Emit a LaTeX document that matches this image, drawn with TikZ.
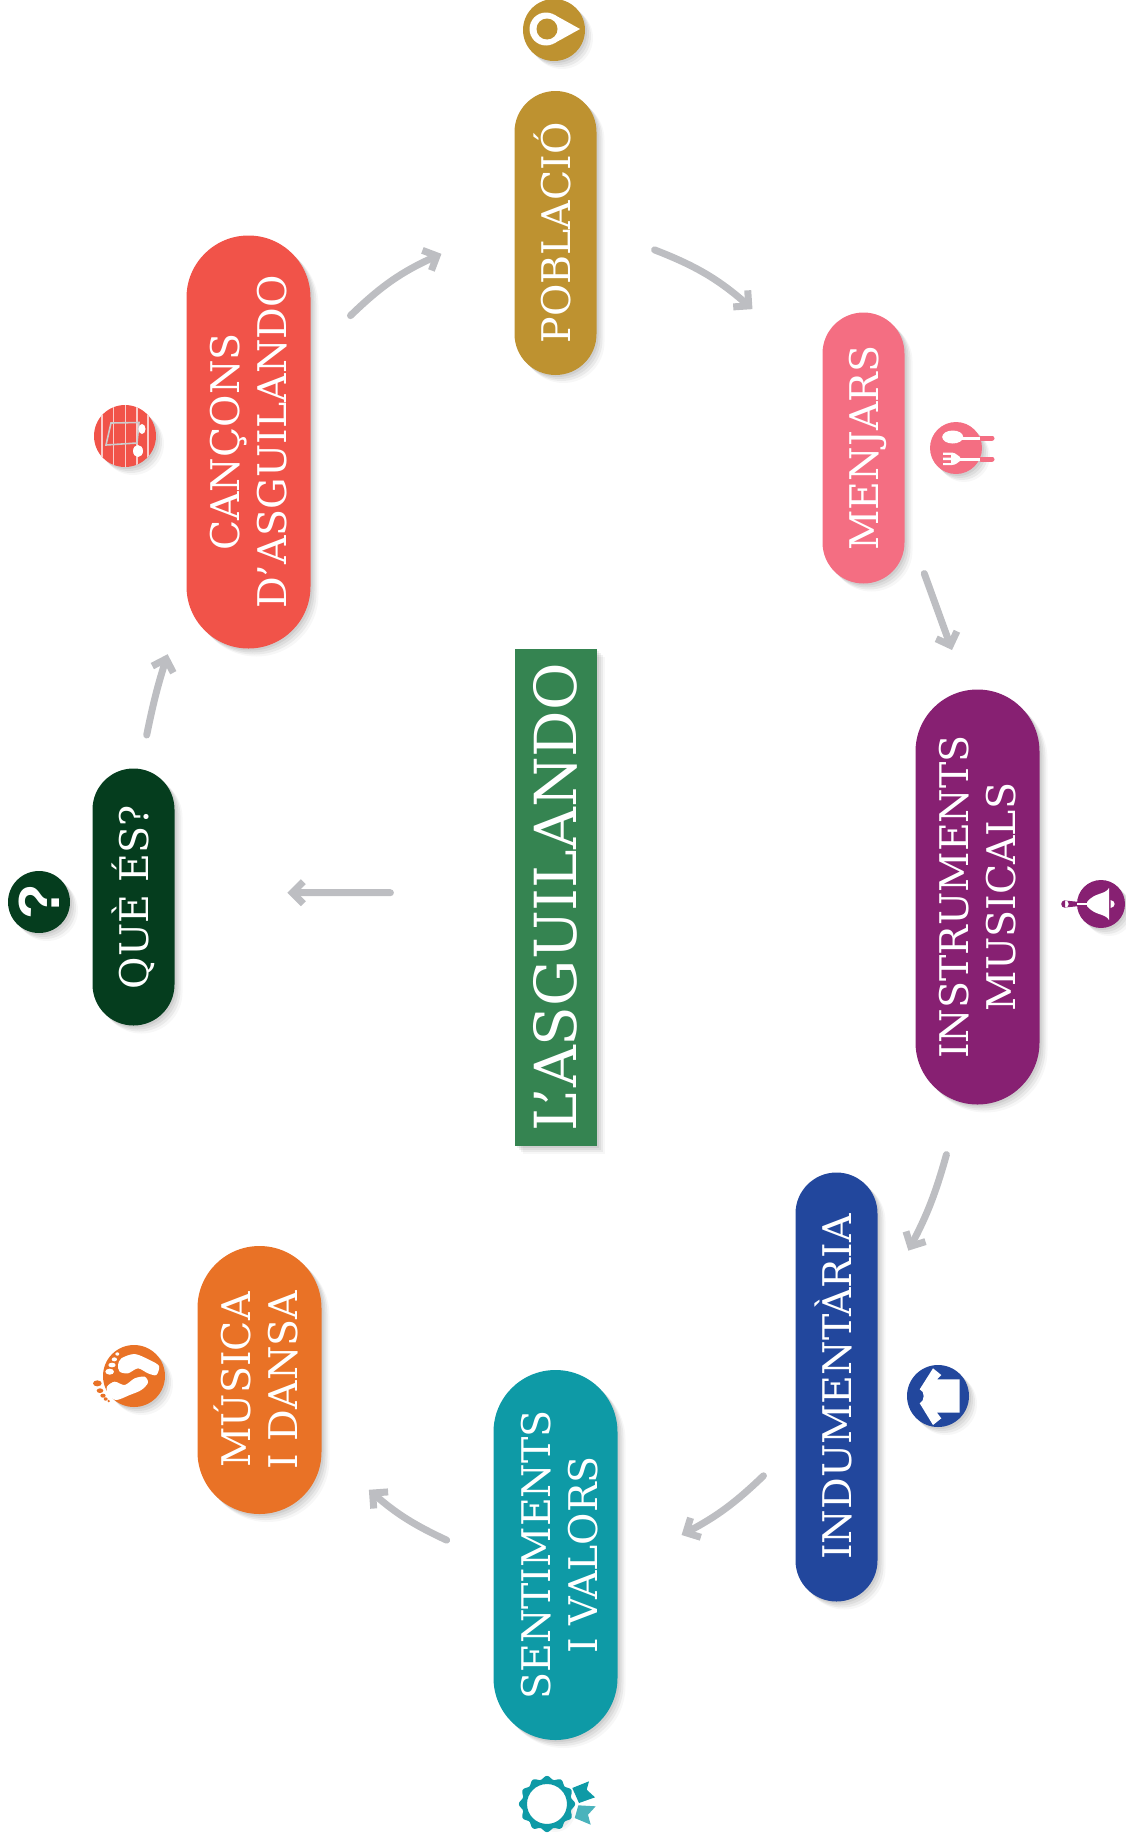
\documentclass[tikz,border=0pt]{standalone}
\usepackage{fontspec}
\setmainfont{DejaVu Serif}
\usepackage{tikz}
\usetikzlibrary{positioning}
\usetikzlibrary{calc}
\usetikzlibrary{arrows.meta}
\usetikzlibrary{shadows}
\usetikzlibrary{shapes.misc}
\definecolor{cpoblacio}{HTML}{BE9230}
\definecolor{cmenjars}{HTML}{F46E82}
\definecolor{cinstruments}{HTML}{872072}
\definecolor{cindumentaria}{HTML}{22479D}
\definecolor{csentiments}{HTML}{0E9AA6}
\definecolor{cmusica}{HTML}{E97226}
\definecolor{cque}{HTML}{053D1E}
\definecolor{ccancons}{HTML}{F15349}
\definecolor{ctitol}{HTML}{358451}
\definecolor{cfletxa}{HTML}{BDBEC2}
\def\capline#1{\rule{0pt}{29pt}\smash{#1}}
\tikzset{
	softshadow/.style={
		drop shadow={shadow xshift=2pt,shadow yshift=-2pt,opacity=.06,fill=black},
		drop shadow={shadow xshift=4pt,shadow yshift=-4pt,opacity=.06,fill=black},
		drop shadow={shadow xshift=6pt,shadow yshift=-6pt,opacity=.05,fill=black},
		drop shadow={shadow xshift=8pt,shadow yshift=-8pt,opacity=.03,fill=black}},
	pill/.style={rounded rectangle,rotate=90,align=center,text=white,softshadow,outer sep=0pt,inner sep=0pt,font=\fontsize{39.5}{47}\selectfont},
	singlepill/.style={pill,text height=29pt,text depth=0pt,minimum height=82pt},
	icona/.style={circle,minimum size=62pt,inner sep=0pt,outer sep=0pt,softshadow},
	fletxa/.style={-{Straight Barb[length=11pt,width=22pt,line width=7pt,line cap=butt]},draw=cfletxa,line width=7pt,line cap=round},
}
\begin{document}
\begin{tikzpicture}[x=1pt,y=-1pt]
	\useasboundingbox (0,0) rectangle (1125,1847);

	\node [rotate=90,minimum width=497pt,minimum height=82pt,inner sep=0pt,outer sep=0pt,fill=ctitol,text=white,softshadow,text height=42pt,text depth=0pt,font=\fontsize{58}{64}\selectfont] at (555.5,897) (titol) {L’ASGUILANDO};
	\node [singlepill,minimum width=284pt,fill=cpoblacio] at (555.5,233) (poblacio) {POBLACIÓ};
	\node [singlepill,minimum width=271pt,fill=cmenjars] at (863.5,448) (menjars) {MENJARS};
	\node [pill,minimum width=415pt,minimum height=124pt,fill=cinstruments] at (977.5,897) (instruments) {INSTRUMENTS\\MUSICALS};
	\node [singlepill,minimum width=429pt,fill=cindumentaria] at (836.5,1387) (indumentaria) {INDUMENTÀRIA};
	\node [pill,minimum width=370pt,minimum height=124pt,fill=csentiments] at (555.5,1555) (sentiments) {\rule{0pt}{37pt}SENTIMENTS\\I VALORS};
	\node [pill,minimum width=268pt,minimum height=124pt,fill=cmusica] at (259.5,1380) (musica) {\capline{MÚSICA}\\I DANSA};
	\node [singlepill,minimum width=257pt,fill=cque] at (133.5,897) (que) {QUÈ ÉS?};
	\node [pill,minimum width=413pt,minimum height=124pt,fill=ccancons] at (248.5,442) (cancons) {CANÇONS\\D’ASGUILANDO};

	\draw[fletxa] ($(cancons.-32)!.196!(poblacio.55)$) to[bend left=10] ($(cancons.-32)!.642!(poblacio.55)$);
	\draw[fletxa] ($(poblacio.-66)!.257!(menjars.23)$) to[bend left=10] ($(poblacio.-66)!.69!(menjars.23)$);
	\draw[fletxa] ($(menjars.-150)!.318!(instruments.3)$) -- ($(menjars.-150)!.764!(instruments.3)$);
	\draw[fletxa] ($(instruments.177)!.227!(indumentaria.-35)$) to[bend left=6] ($(instruments.177)!.654!(indumentaria.-35)$);
	\draw[fletxa] ($(indumentaria.148)!.18!(sentiments.-113)$) to[bend left=8] ($(indumentaria.148)!.64!(sentiments.-113)$);
	\draw[fletxa] ($(sentiments.104)!.272!(musica.-142)$) to[bend left=8] ($(sentiments.104)!.723!(musica.-142)$);
	\draw[fletxa] ($(titol.84)!.365!(que.-84)$) -- ($(titol.84)!.668!(que.-84)$);
	\draw[fletxa] ($(que.-2)!.18!(cancons.156)$) to[bend left=3] ($(que.-2)!.611!(cancons.156)$);

	% icones
	\node [icona,fill=cpoblacio] at (554,30) (icopoblacio) {};
	\fill [white,shift={(icopoblacio)}] (0,-15.4) -- (26,-1) -- (0,13.4) -- cycle;
	\fill [white,shift={(icopoblacio)}] (-8,-1) circle [radius=16.5pt];
	\fill [cpoblacio,shift={(icopoblacio)}] (-7,-1) circle [radius=10.5pt];

	\node [icona,fill=cmenjars,minimum size=52pt] at (956,448) (icomenjars) {};
	\draw [cmenjars,line width=5pt,line cap=round,shift={(icomenjars)}] (25,-10) -- (36,-10) (25,11) -- (36,11);
	\draw [white,line width=3pt,shift={(icomenjars)}] (4,-10) -- (24,-10) (2,11) -- (23.5,11);
	\fill [white,shift={(icomenjars)}] (-3.3,-11) ellipse [x radius=10.5pt,y radius=6.5pt];
	\fill [white,shift={(icomenjars)}] (-13,4.5) -- (-4,4.5) .. controls (0,5) and (2,8) .. (4,9) -- (4,13) .. controls (2,14) and (0,17) .. (-4,17) -- (-13,17) -- (-13,15) -- (-5,15) -- (-5,12) -- (-13,12) -- (-13,9.5) -- (-5,9.5) -- (-5,6.8) -- (-13,6.8) -- cycle;

	\node [icona,fill=cinstruments,minimum size=48pt] at (1101,904) (icoinstruments) {};
	\fill [cinstruments,shift={(icoinstruments)}] (-36,0) circle [radius=3.8pt] (-36,-3.5) -- (-23,-2.2) -- (-23,2.2) -- (-36,3.5) -- cycle;
	\draw [white,line width=2pt,shift={(icoinstruments)}] (-24,0) -- (-13,0);
	\fill [white,shift={(icoinstruments)}] (8,-16) .. controls (4,-9) and (-6,-12) .. (-14,-2) -- (-14,2) .. controls (-6,12) and (4,9) .. (8,16) -- cycle;
	\fill [white,shift={(icoinstruments)}] (9.5,-4) .. controls (15,-3) and (15,3) .. (9.5,4) -- cycle;

	\node [icona,fill=cindumentaria] at (938,1396) (icoindumentaria) {};
	\fill [white,shift={(icoindumentaria)}] (-18.3,-6.7) -- (-5,-27.7) -- (3.3,-21) -- (-1,-16.7) -- (21.7,-16.7) -- (21.7,16.7) -- (-1,16.7) -- (3.3,22.3) -- (-5,29) -- (-18.3,7.3) .. controls (-13,5) and (-13,-5) .. (-18.3,-6.7) -- cycle;

	\node [icona,minimum size=40pt,fill=white] at (547,1804) (icosentiments) {};
	\fill [csentiments,shift={(icosentiments)},even odd rule] plot [domain=0:360,samples=145,smooth] ({(26.5+1.6*cos(12*\x))*cos(\x)},{(26.5+1.6*cos(12*\x))*sin(\x)}) -- cycle (0,0) circle [radius=20pt];
	\fill [csentiments,shift={(icosentiments)}] (25.3,-16) -- (42,-22.7) -- (39.7,-14.3) -- (48,-6.7) -- (32,-1) -- cycle;
	\fill [csentiments!75,shift={(icosentiments)}] (31.3,1.3) -- (48.7,2.3) -- (41,10.7) -- (43.7,20.7) -- (27.7,14) -- cycle;

	\node [icona,fill=cmusica] at (134,1376) (icomusica) {};
	\begin{scope}[shift={(icomusica)},scale=.3333]
		\fill [white] plot [smooth cycle] coordinates {(-38,-53) (2,-66) (47,-48) (75,-30) (67,-3) (42,-8) (12,-23) (-18,-8) (-43,-13) (-48,-33)};
		\fill [white] plot [smooth cycle] coordinates {(-81,32) (-58,17) (-28,27) (2,7) (32,2) (42,20) (22,42) (-13,57) (-53,72) (-78,57)};
		\fill [white] (-73,-13) ellipse [x radius=13pt,y radius=9pt] (-66,-33) ellipse [x radius=11pt,y radius=7pt] (-59,-50) ellipse [x radius=8pt,y radius=6pt] (-50,-66) ellipse [x radius=6pt,y radius=5pt];
		\fill [cmusica] (-110,22) ellipse [x radius=13pt,y radius=9pt] (-102,44) ellipse [x radius=10pt,y radius=7pt] (-93,59) ellipse [x radius=8pt,y radius=6pt] (-85,69) ellipse [x radius=6pt,y radius=5pt] (-76,75) circle [radius=4pt];
	\end{scope}

	\node [icona,fill=ccancons] at (125,436) (icocancons) {};
	\begin{scope}[shift={(icocancons)}]
		\clip (0,0) circle [radius=31pt];
		\foreach \xratlla in {-23,-11.3,0.3,12,23}
			\draw [ccancons!30,line width=1.2pt] (\xratlla,-31) -- (\xratlla,31);
		\draw [black!20,line width=1.6pt] (-14,-13) -- (14,-13.5) -- (12,7) -- (-19,9) -- cycle;
		\fill [white] (17,-7) ellipse [x radius=3.5pt,y radius=5pt] (13,15) ellipse [x radius=5pt,y radius=6pt];
	\end{scope}

	\node [icona,rotate=90,fill=cque,text=white,font=\fontsize{58}{58}\bfseries\fontspec{Liberation Sans}] at (39,902) (icoque) {?};
\end{tikzpicture}
\end{document}
